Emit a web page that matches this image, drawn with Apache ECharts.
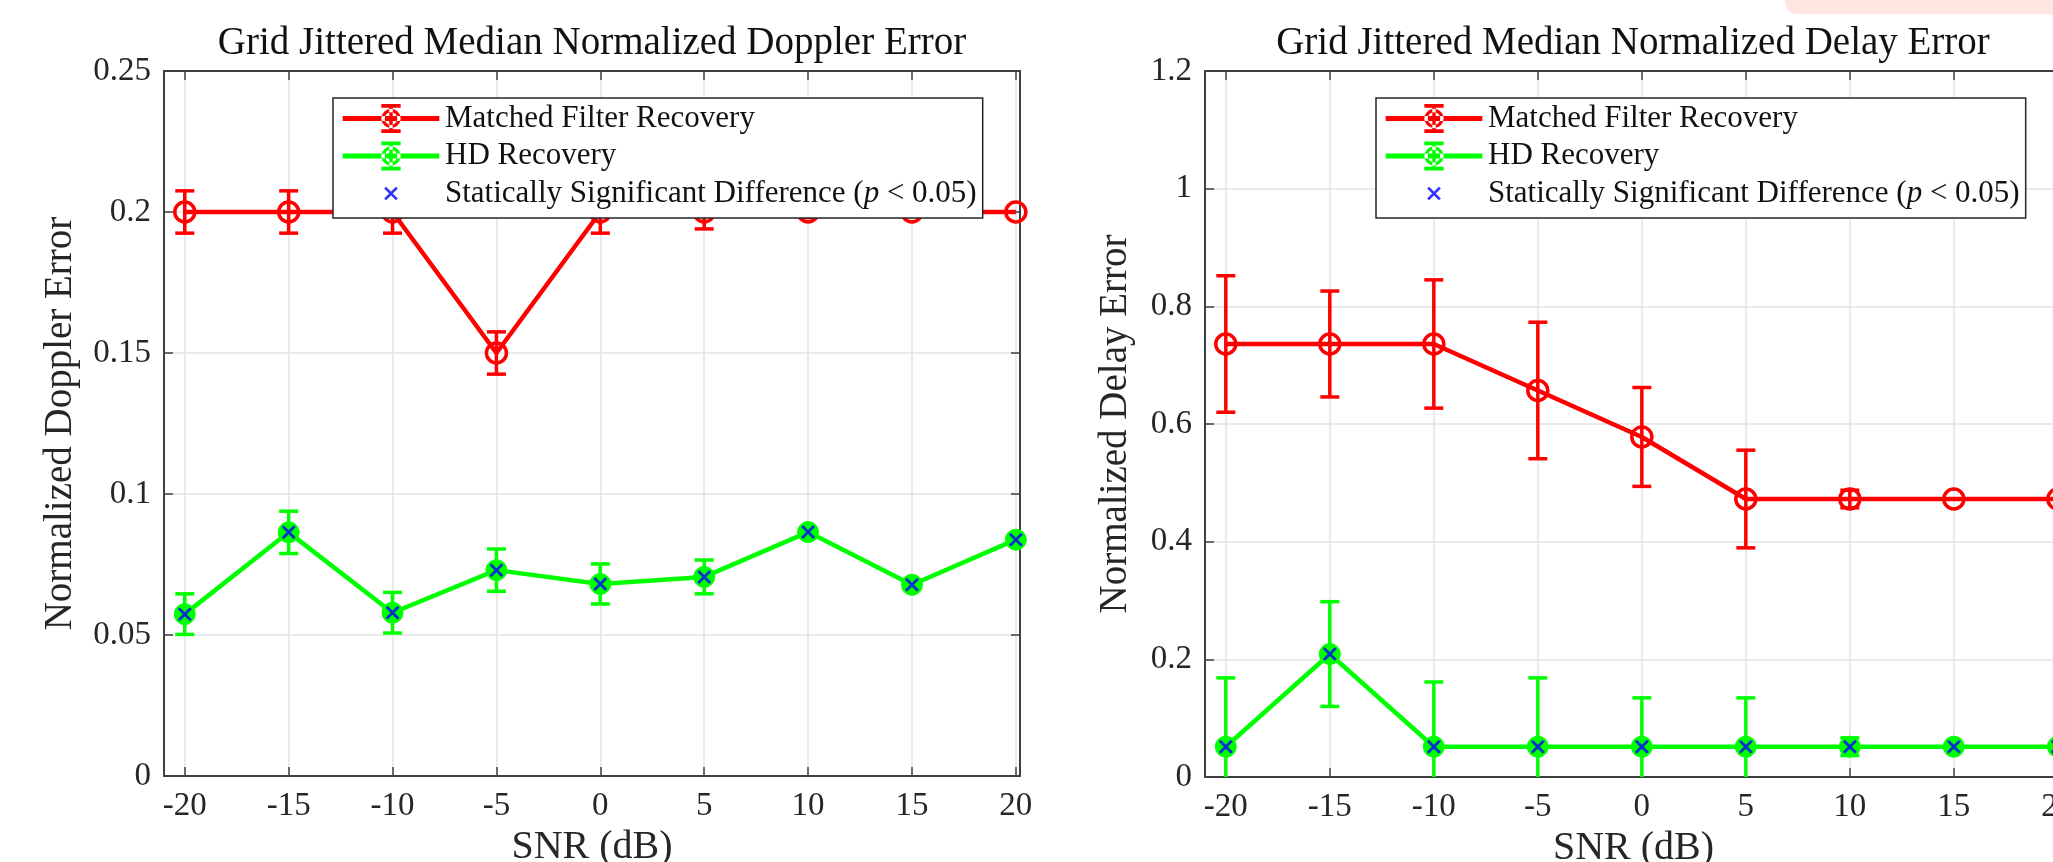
<!DOCTYPE html>
<html>
<head>
<meta charset="utf-8">
<title>Grid Jittered Median Normalized Error</title>
<script src="https://cdn.jsdelivr.net/npm/echarts@6/dist/echarts.min.js"></script>
<style>
  html, body { margin: 0; padding: 0; background: #fff; }
  #chart { width: 2053px; height: 862px; }
</style>
</head>
<body>
<div id="chart"></div>
<script>
// SNR values (dB) shared by both panels
const snr = [-20, -15, -10, -5, 0, 5, 10, 15, 20];

// Doppler panel
const dopplerMF = [0.2, 0.2, 0.2, 0.15, 0.2, 0.2, 0.2, 0.2, 0.2];
const dopplerMFErr = [0.0075, 0.0075, 0.0075, 0.0075, 0.0075, 0.006, 0.002, 0, 0];
const dopplerHD = [0.0574, 0.0864, 0.0579, 0.0730, 0.0681, 0.0706, 0.0865, 0.0678, 0.0838];
const dopplerHDErr = [0.0072, 0.0075, 0.0072, 0.0075, 0.0071, 0.006, 0.001, 0, 0];
const dopplerSig = [1, 1, 1, 1, 1, 1, 1, 1, 1];

// Delay panel
const delayMF = [0.736, 0.736, 0.736, 0.657, 0.578, 0.4725, 0.4725, 0.4725, 0.4725];
const delayMFErr = [0.116, 0.09, 0.109, 0.116, 0.084, 0.083, 0.015, 0, 0];
const delayHD = [0.0515, 0.209, 0.0515, 0.0515, 0.0515, 0.0515, 0.0515, 0.0515, 0.0515];
const delayHDErr = [0.117, 0.089, 0.11, 0.117, 0.083, 0.083, 0.015, 0, 0];
const delaySig = [1, 1, 1, 1, 1, 1, 1, 1, 1];

const names = ['Matched Filter Recovery', 'HD Recovery', 'Statically Significant Difference (p < 0.05)'];
const titles = ['Grid Jittered Median Normalized Doppler Error', 'Grid Jittered Median Normalized Delay Error'];
const yNames = ['Normalized Doppler Error', 'Normalized Delay Error'];

const RED = '#ff0000';
const GREEN = '#00ff00';
const BLUE = '#0000ff';
const INK = '#262626';
const FONT = 'Liberation Serif';

// icons (x marker, and the errorbar glyph used in the legend)
const xPath = 'M43 9 L45 7 L57 19 L55 21 Z M55 7 L57 9 L45 21 L43 19 Z';
const corners = 'M0 0 L0.01 0 L0 0.01 Z M100 30 L99.99 30 L100 29.99 Z ';
const errIcon = 'path://' + corners +
  'M0 12.5 L100 12.5 L100 17.5 L0 17.5 Z ' +
  'M48.2 2 L51.8 2 L51.8 28 L48.2 28 Z ' +
  'M40 0 L60 0 L60 4 L40 4 Z M40 26 L60 26 L60 30 L40 30 Z ' +
  'M60 15 A10 10 0 1 0 40 15 A10 10 0 1 0 60 15 Z ' +
  'M56.5 15 A6.5 6.5 0 1 1 43.5 15 A6.5 6.5 0 1 1 56.5 15 Z';
const xIcon = 'path://' + 'M0 0 L0.01 0 L0 0.01 Z M100 28 L99.99 28 L100 27.99 Z ' + xPath;

function pairs(ys) {
  return snr.map((x, i) => [x, ys[i]]);
}
function bars(ys, errs) {
  return snr.map((x, i) => [x, ys[i] - errs[i], ys[i] + errs[i]]);
}
function sigPoints(ys, sig) {
  return snr.map((x, i) => (sig[i] ? [x, ys[i]] : null)).filter(Boolean);
}

function errorBar(color, yMin) {
  return function (params, api) {
    const x = api.value(0);
    const lo = api.value(1);
    const hi = api.value(2);
    if (hi - lo <= 0) return null;
    const top = api.coord([x, hi]);
    const bot = api.coord([x, Math.max(lo, yMin)]);
    const hw = 9.5;
    const style = { stroke: color, lineWidth: 3.5 };
    const kids = [
      { type: 'line', shape: { x1: top[0], y1: top[1], x2: bot[0], y2: bot[1] }, style: style },
      { type: 'line', shape: { x1: top[0] - hw, y1: top[1], x2: top[0] + hw, y2: top[1] }, style: style }
    ];
    if (lo >= yMin) {
      kids.push({ type: 'line', shape: { x1: bot[0] - hw, y1: bot[1], x2: bot[0] + hw, y2: bot[1] }, style: style });
    }
    return { type: 'group', children: kids };
  };
}

const grids = [
  { left: 164, top: 71, width: 856, height: 705, outerBoundsMode: 'none' },
  { left: 1205, top: 71, width: 857, height: 706, outerBoundsMode: 'none' }
];
const yMax = [0.25, 1.2];
const yStep = [0.05, 0.2];

const xAxes = [];
const yAxes = [];
[0, 1].forEach(g => {
  ['bottom', 'top'].forEach(pos => {
    const main = pos === 'bottom';
    xAxes.push({
      type: 'value', gridIndex: g, position: pos,
      min: -21, max: 20.2, splitNumber: 8,
      name: main ? 'SNR (dB)' : '', nameLocation: 'middle', nameGap: 50,
      nameTextStyle: { fontFamily: FONT, fontSize: 40, color: INK },
      axisLine: { show: true, onZero: false, lineStyle: { color: '#404040', width: 2 } },
      axisTick: { show: true, inside: true, length: 9, lineStyle: { color: '#404040', width: 1.5 } },
      axisLabel: { show: main, showMinLabel: false, showMaxLabel: false, margin: 14,
        fontFamily: FONT, fontSize: 33, color: INK },
      splitLine: { show: main, lineStyle: { color: '#e3e3e3', width: 1.5 } }
    });
  });
  ['left', 'right'].forEach(pos => {
    const main = pos === 'left';
    yAxes.push({
      type: 'value', gridIndex: g, position: pos,
      min: 0, max: yMax[g], interval: yStep[g],
      name: main ? yNames[g] : '', nameLocation: 'middle', nameGap: g === 0 ? 84 : 70,
      nameTextStyle: { fontFamily: FONT, fontSize: 39, color: INK },
      axisLine: { show: true, onZero: false, lineStyle: { color: '#404040', width: 2 } },
      axisTick: { show: true, inside: true, length: 9, lineStyle: { color: '#404040', width: 1.5 } },
      axisLabel: { show: main, margin: 13, fontFamily: FONT, fontSize: 33, color: INK },
      splitLine: { show: main, lineStyle: { color: '#e3e3e3', width: 1.5 } }
    });
  });
});

function panelSeries(g, mf, mfErr, hd, hdErr, sig) {
  const xi = g * 2;
  const yi = g * 2;
  return [
    {
      name: names[0], type: 'line', xAxisIndex: xi, yAxisIndex: yi,
      data: pairs(mf), color: RED,
      lineStyle: { color: RED, width: 4.5 },
      symbol: 'circle', symbolSize: 20,
      itemStyle: { color: 'rgba(0,0,0,0)', borderColor: RED, borderWidth: 3.5 },
      z: 3, animation: false
    },
    {
      name: names[0], type: 'custom', xAxisIndex: xi, yAxisIndex: yi,
      renderItem: errorBar(RED, 0), data: bars(mf, mfErr),
      encode: { x: 0, y: [1, 2] }, clip: true, z: 3, animation: false
    },
    {
      name: names[1], type: 'line', xAxisIndex: xi, yAxisIndex: yi,
      data: pairs(hd), color: GREEN,
      lineStyle: { color: GREEN, width: 4.5 },
      symbol: 'circle', symbolSize: 21,
      itemStyle: { color: GREEN, borderColor: GREEN, borderWidth: 1 },
      z: 4, animation: false
    },
    {
      name: names[1], type: 'custom', xAxisIndex: xi, yAxisIndex: yi,
      renderItem: errorBar(GREEN, 0), data: bars(hd, hdErr),
      encode: { x: 0, y: [1, 2] }, clip: true, z: 4, animation: false
    },
    {
      name: names[2], type: 'scatter', xAxisIndex: xi, yAxisIndex: yi,
      data: sigPoints(hd, sig), color: BLUE,
      symbol: 'path://' + xPath, symbolSize: 14,
      itemStyle: { color: BLUE },
      z: 5, animation: false
    }
  ];
}

const legendText = {
  fontFamily: FONT, fontSize: 31, color: '#111', lineHeight: 28,
  rich: {
    n: { fontFamily: FONT, fontSize: 31, color: '#111' },
    i: { fontFamily: FONT, fontSize: 31, color: '#111', fontStyle: 'italic' }
  }
};
function legendFor(left) {
  return {
    orient: 'vertical', left: left, top: 98,
    itemWidth: 98, itemHeight: 29, itemGap: 6.5,
    padding: [5, 6, 9, 9],
    backgroundColor: '#fff', borderColor: INK, borderWidth: 1.5,
    selectedMode: false,
    textStyle: legendText,
    formatter: function (name) {
      if (name === names[2]) return '{n|Statically Significant Difference (}{i|p}{n| < 0.05)}';
      return '{n|' + name + '}';
    },
    data: [
      { name: names[0], icon: errIcon, itemStyle: { color: RED, borderWidth: 0 } },
      { name: names[1], icon: errIcon, itemStyle: { color: GREEN, borderWidth: 0 } },
      { name: names[2], icon: xIcon, itemStyle: { color: BLUE, borderWidth: 0 } }
    ]
  };
}

const chart = echarts.init(document.getElementById('chart'));
chart.setOption({
  backgroundColor: '#fff',
  animation: false,
  title: [
    { text: titles[0], left: 592, top: 24, textAlign: 'center', padding: 0,
      textStyle: { fontFamily: FONT, fontSize: 39, fontWeight: 'normal', color: '#111' } },
    { text: titles[1], left: 1633, top: 24, textAlign: 'center', padding: 0,
      textStyle: { fontFamily: FONT, fontSize: 39, fontWeight: 'normal', color: '#111' } }
  ],
  grid: grids,
  xAxis: xAxes,
  yAxis: yAxes,
  legend: [legendFor(333), legendFor(1376)],
  graphic: [
    { type: 'rect', left: 1785, top: -20, shape: { width: 290, height: 34, r: 12 },
      style: { fill: '#fce6df' }, z: 10 },
    { type: 'text', left: 1808, top: -25, z: 11,
      style: { text: 'AI ASSISTANT', fontFamily: 'Roboto', fontSize: 30, fill: '#4a4040' } }
  ],
  series: [].concat(
    panelSeries(0, dopplerMF, dopplerMFErr, dopplerHD, dopplerHDErr, dopplerSig),
    panelSeries(1, delayMF, delayMFErr, delayHD, delayHDErr, delaySig)
  )
});
</script>
</body>
</html>
